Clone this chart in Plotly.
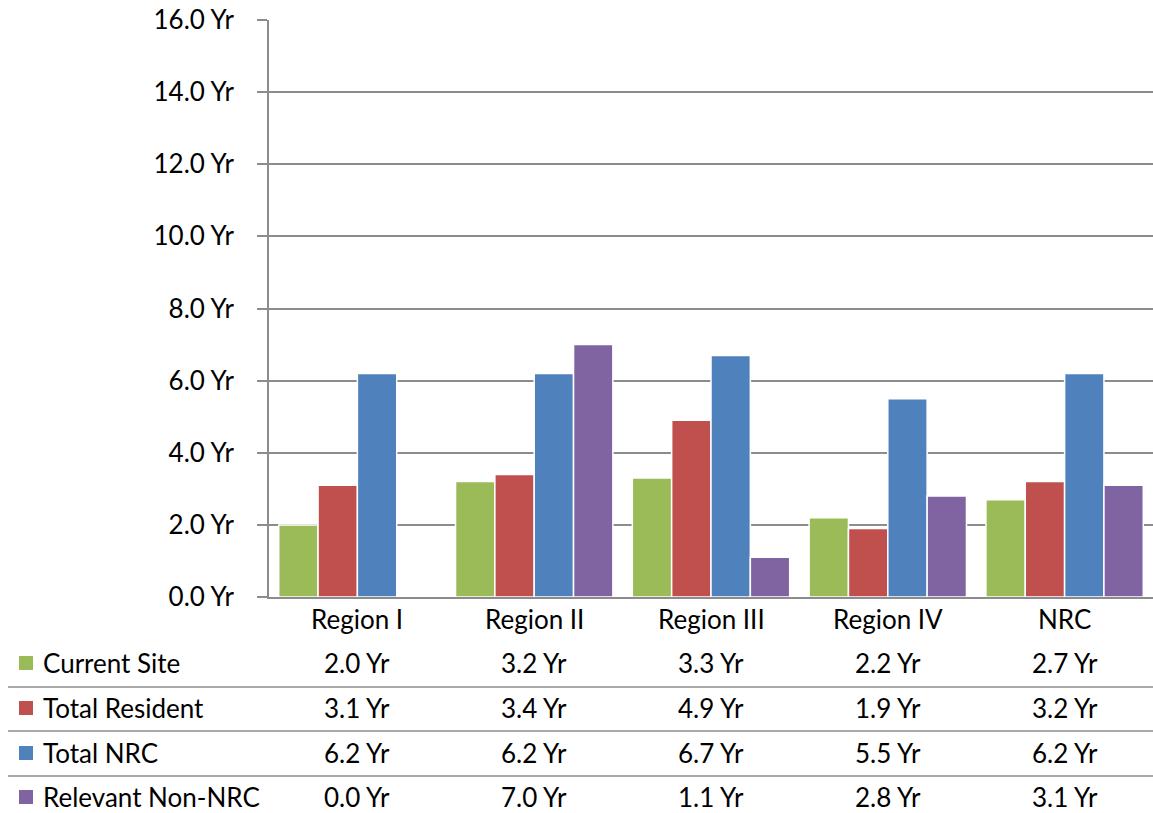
import plotly.graph_objects as go

# Average tenure by region, in years
regions = ["Region I", "Region II", "Region III", "Region IV", "NRC"]
series_names = ["Current Site", "Total Resident", "Total NRC", "Relevant Non-NRC"]
current_site = [2.0, 3.2, 3.3, 2.2, 2.7]
total_resident = [3.1, 3.4, 4.9, 1.9, 3.2]
total_nrc = [6.2, 6.2, 6.7, 5.5, 6.2]
relevant_non_nrc = [0.0, 7.0, 1.1, 2.8, 3.1]
series_values = [current_site, total_resident, total_nrc, relevant_non_nrc]
colors = ["#9BBB59", "#C0504D", "#4F81BD", "#8064A2"]
y_ticks = [0, 2, 4, 6, 8, 10, 12, 14, 16]

FONT = "Lato"
FS = 26
GRID = "#8C8C8C"

W, H = 1153, 813
ML, MR, MT, MB = 269, 0, 20, 216
plot_w = W - ML - MR
plot_h = H - MT - MB


def px_to_paper_y(py):
    return (H - MB - py) / plot_h


def px_to_paper_x(px):
    return (px - ML) / plot_w


fig = go.Figure()
for name, vals, col in zip(series_names, series_values, colors):
    fig.add_trace(go.Bar(
        x=regions, y=vals, name=name,
        marker=dict(color=col, line=dict(color="white", width=1.5)),
        showlegend=False,
    ))

# Data table beneath the chart: category header row plus one row per series
annotations = []
for r in regions:
    annotations.append(dict(x=r, xref="x", y=px_to_paper_y(619), yref="paper",
                            text=r, showarrow=False,
                            font=dict(family=FONT, size=FS, color="black"),
                            xanchor="center", yanchor="middle"))

row_y = [663, 708, 753, 797]
shapes = []
for i, (name, vals, col) in enumerate(zip(series_names, series_values, colors)):
    yp = px_to_paper_y(row_y[i])
    annotations.append(dict(x=px_to_paper_x(41), xref="paper", y=yp, yref="paper",
                            text=name, showarrow=False,
                            font=dict(family=FONT, size=FS, color="black"),
                            xanchor="left", yanchor="middle"))
    shapes.append(dict(type="rect", xref="paper", yref="paper",
                       x0=px_to_paper_x(19), x1=px_to_paper_x(33),
                       y0=px_to_paper_y(row_y[i] - 7), y1=px_to_paper_y(row_y[i] + 7),
                       fillcolor=col, line=dict(width=0)))
    for r, v in zip(regions, vals):
        annotations.append(dict(x=r, xref="x", y=yp, yref="paper",
                                text=f"{v:.1f} Yr", showarrow=False,
                                font=dict(family=FONT, size=FS, color="black"),
                                xanchor="center", yanchor="middle"))

for ly in [687, 731, 776]:
    shapes.append(dict(type="line", xref="paper", yref="paper",
                       x0=px_to_paper_x(8), x1=1.0,
                       y0=px_to_paper_y(ly), y1=px_to_paper_y(ly),
                       line=dict(color=GRID, width=1.5)))

fig.update_layout(
    width=W, height=H,
    margin=dict(l=ML, r=MR, t=MT, b=MB, pad=0),
    paper_bgcolor="white", plot_bgcolor="white",
    barmode="group", bargap=0.11, bargroupgap=0.0,
    font=dict(family=FONT, size=FS, color="black"),
    annotations=annotations, shapes=shapes,
    xaxis=dict(showticklabels=False, showgrid=False, ticks="",
               showline=True, linecolor=GRID, linewidth=1.5,
               range=[-0.5, 4.5]),
    yaxis=dict(range=[0, 16], tickvals=y_ticks,
               ticktext=[f"{t:.1f} Yr" for t in y_ticks],
               showgrid=True, gridcolor=GRID, gridwidth=1.5,
               showline=True, linecolor=GRID, linewidth=1.5,
               ticks="outside", ticklen=10, tickcolor=GRID, tickwidth=1.5,
               ticklabelstandoff=18,
               tickfont=dict(family=FONT, size=FS, color="black"),
               zeroline=False),
)

fig.write_html("out.html")
